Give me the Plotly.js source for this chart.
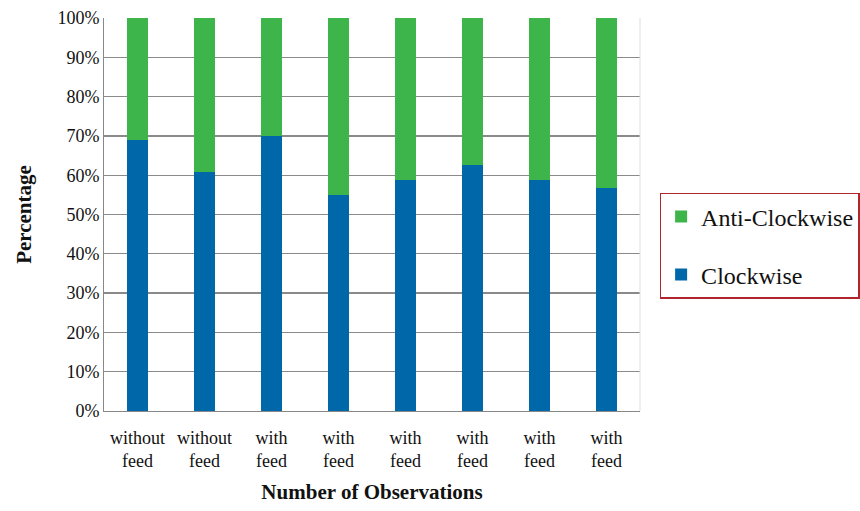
<!DOCTYPE html>
<html><head><meta charset="utf-8">
<script src="https://cdn.plot.ly/plotly-3.0.1.min.js"></script>
<style>html,body{margin:0;padding:0;background:#fff;}#chart{width:860px;height:511px;}</style>
</head><body><div id="chart"></div>
<script>
const categories = ["without<br>feed","without<br>feed","with<br>feed","with<br>feed","with<br>feed","with<br>feed","with<br>feed","with<br>feed"];
const clockwise = [69, 60.8, 70, 54.9, 58.8, 62.7, 58.8, 56.7];
const antiClockwise = clockwise.map(v => 100 - v);
const xIdx = categories.map((c,i)=>i);

const traces = [
  {type:'bar', name:'Clockwise', x:xIdx, y:clockwise, marker:{color:'#0067a9'}, width:0.3, legendgroup:'a', legendrank:2},
  {type:'bar', name:'Anti-Clockwise', x:xIdx, y:antiClockwise, marker:{color:'#3db54a'}, width:0.3, legendgroup:'b', legendrank:1}
];
const layout = {
  width:860, height:511, barmode:'stack', showlegend:true,
  margin:{l:104, r:220, t:18, b:100, autoexpand:false},
  paper_bgcolor:'#fff', plot_bgcolor:'#fff',
  font:{family:'Liberation Serif, Times New Roman, serif', color:'#111'},
  xaxis:{tickmode:'array', tickvals:xIdx, ticktext:categories, range:[-0.5,7.5],
    tickfont:{size:18}, showline:true, linecolor:'#888', ticks:'outside', ticklen:10, tickcolor:'rgba(0,0,0,0)', showgrid:false,
    title:{text:'<b>Number of Observations</b>', font:{size:21}, standoff:14}},
  yaxis:{range:[0,100], dtick:10, ticksuffix:'%', tickfont:{size:18},
    showgrid:true, gridcolor:'#8a8a8a', gridwidth:1.3, showline:true, linecolor:'#888',
    zeroline:false, ticks:'',
    title:{text:'<b>Percentage</b>', font:{size:21}, standoff:20}},
  legend:{xref:'container', yref:'container', x:0.767, y:0.519, xanchor:'left', yanchor:'middle', traceorder:'grouped',
    tracegroupgap:24, bordercolor:'#b0262c', borderwidth:1.5, font:{size:24}, bgcolor:'#fff', itemwidth:30},
  shapes:[{type:'line', xref:'paper', yref:'paper', x0:1, x1:1, y0:0, y1:1, line:{color:'#ddd', width:1}}]
};
Plotly.newPlot('chart', traces, layout, {staticPlot:true});
</script></body></html>
